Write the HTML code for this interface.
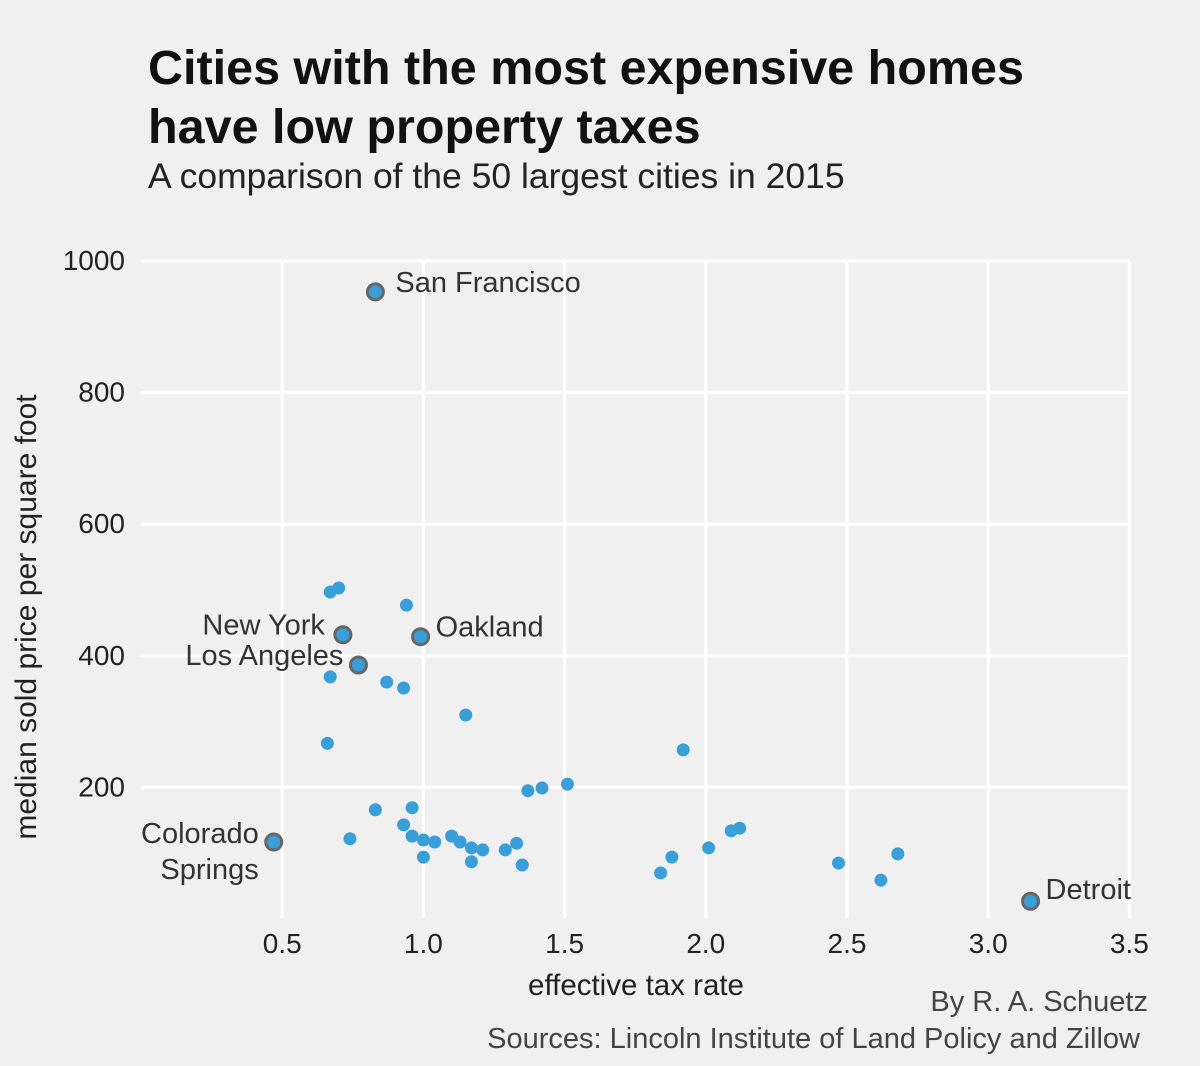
<!DOCTYPE html>
<html><head><meta charset="utf-8"><style>
body{margin:0;background:#f0f0f0;font-family:"Liberation Sans",sans-serif}
svg{display:block}
</style></head><body>
<svg id="chart" width="1200" height="1066">
<rect width="1200" height="1066" fill="#f0f0f0"/>
<text x="148" y="84" font-size="48.5" font-weight="bold" fill="#111">Cities with the most expensive homes</text>
<text x="148" y="143" font-size="48.5" font-weight="bold" fill="#111">have low property taxes</text>
<text x="148" y="188" font-size="35.5" fill="#222">A comparison of the 50 largest cities in 2015</text>
<g id="grid"></g>
<g id="points"></g>
<text transform="translate(36,617) rotate(-90)" text-anchor="middle" font-size="30" fill="#222">median sold price per square foot</text>
<text x="636" y="995" text-anchor="middle" font-size="29.5" fill="#222">effective tax rate</text>
<text x="1148" y="1011" text-anchor="end" font-size="29" fill="#444">By R. A. Schuetz</text>
<text x="1140" y="1048" text-anchor="end" font-size="29" fill="#444">Sources: Lincoln Institute of Land Policy and Zillow</text>
</svg>
<script>
const xTicks=[0.5,1.0,1.5,2.0,2.5,3.0,3.5];
const yTicks=[200,400,600,800,1000];
const rates=[0.67,0.70,0.94,0.67,0.87,0.93,1.15,0.66,1.92,1.37,1.42,1.51,0.83,0.96,0.93,0.74,0.96,1.00,1.04,1.10,1.13,1.17,1.17,1.00,1.21,1.29,1.33,1.35,1.84,1.88,2.01,2.09,2.12,2.47,2.62,2.68];
const prices=[497,503,477,368,360,351,310,267,257,195,199,205,166,169,143,122,126,120,117,126,117,108,87,94,105,105,115,82,70,94,108,134,138,85,59,99];
const hlNames=["San Francisco","New York","Oakland","Los Angeles","Colorado Springs","Detroit"];
const hlRates=[0.83,0.715,0.99,0.77,0.47,3.15];
const hlPrices=[953,432,429,386,117,27];
const NS="http://www.w3.org/2000/svg";
const X=v=>141+v*282.4, Y=v=>919-v*0.658;
const grid=document.getElementById('grid'), pts=document.getElementById('points');
function mk(tag,attrs,parent){const e=document.createElementNS(NS,tag);for(const k in attrs)e.setAttribute(k,attrs[k]);parent.appendChild(e);return e;}
xTicks.forEach(t=>{
 const l=mk('line',{x1:X(t),x2:X(t),y1:262,y2:918,stroke:'#fff','stroke-width':3},grid);
 
 
 const tx=mk('text',{x:X(t),y:953,'text-anchor':'middle','font-size':28,fill:'#222'},grid);
 tx.textContent=t.toFixed(1);
 
 
});
yTicks.forEach(t=>{
 const l=mk('line',{x1:141,x2:1130,y1:Y(t),y2:Y(t),stroke:'#fff','stroke-width':3},grid);
 
 
 const tx=mk('text',{x:125,y:Y(t)+9,'text-anchor':'end','font-size':28,fill:'#222'},grid);
 tx.textContent=t;
 
 
});
rates.forEach((r,i)=>{
 const c=mk('circle',{cx:X(r),cy:Y(prices[i]),r:6.5,fill:'#3a9fd8'},pts);
 
 
});
const lab=[[20,0,'start'],[-18,0,'end'],[15,0,'start'],[-15,0,'end'],[-15,0,'end'],[15,-2,'start']];
hlRates.forEach((r,i)=>{
 const cx=X(r),cy=Y(hlPrices[i]);
 const c=mk('circle',{cx:cx,cy:cy,r:8,fill:'#3a9fd8',stroke:'#666','stroke-width':3},pts);
 
 
 const [dx,dy,a]=lab[i];
 const t=mk('text',{x:cx+dx,y:cy+dy,'text-anchor':a,'font-size':29,fill:'#333'},pts);
 
 
 if(hlNames[i]==="Colorado Springs"){
  t.setAttribute('y',cy+1);
  const s1=mk('tspan',{x:cx+dx},t);s1.textContent="Colorado";
  const s2=mk('tspan',{x:cx+dx,dy:36},t);s2.textContent="Springs";
 } else { t.textContent=hlNames[i]; }
});
</script>
</body></html>
